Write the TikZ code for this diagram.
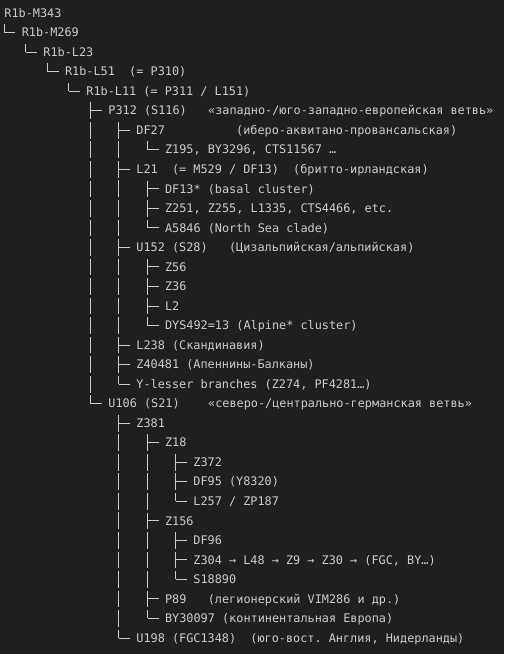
\documentclass[tikz,border=0pt]{standalone}
\usepackage{fontspec}
\newfontfamily\treefont{DejaVu Sans Mono}
\definecolor{panel}{HTML}{1F1F1F}
\definecolor{ink}{HTML}{CCCCCC}
\tikzset{
  clade/.style={anchor=base west, inner sep=0pt, text=ink, font=\treefont\fontsize{11.84}{14}\selectfont},
  rail/.style={draw=ink, line width=1pt, dash pattern=on 16.7pt off 2.83pt},
  stub/.style={draw=ink, line width=1pt}
}

\begin{document}
\frenchspacing
\begin{tikzpicture}[x=1pt, y=-1pt]
			% Panel
			\fill[panel] (0,0) rectangle (504,654);
			% R1b trunk
			\node[clade] (m343) at (4.2,17.2) {R1b-M343};
			\node[clade] (m269) at (21.6,36.7) {R1b-M269};
			\node[clade] (l23) at (43.2,56.3) {R1b-L23};
			\node[clade] (l51) at (64.9,75.8) {R1b-L51~~(= P310)};
			\node[clade] (l11) at (86.2,95.3) {R1b-L11 (= P311 / L151)};
			% P312
			\node[clade] (p312) at (108.2,114.9) {P312 (S116)~~~«западно-/юго-западно-европейская ветвь»};
			\node[clade] (df27) at (136.2,134.4) {DF27~~~~~~~~~~(иберо-аквитано-провансальская)};
			\node[clade] (z195) at (164.9,153.9) {Z195, BY3296, CTS11567 …};
			\node[clade] (l21) at (136.2,173.4) {L21~~(= M529 / DF13)~~(бритто-ирландская)};
			\node[clade] (df13) at (164.9,193.0) {DF13* (basal cluster)};
			\node[clade] (z251) at (164.9,212.5) {Z251, Z255, L1335, CTS4466, etc.};
			\node[clade] (a5846) at (164.9,232.0) {A5846 (North Sea clade)};
			\node[clade] (u152) at (136.2,251.6) {U152 (S28)~~~(Цизальпийская/альпийская)};
			\node[clade] (z56) at (164.9,271.1) {Z56};
			\node[clade] (z36) at (164.9,290.6) {Z36};
			\node[clade] (l2) at (164.9,310.2) {L2};
			\node[clade] (dys492) at (164.9,329.7) {DYS492=13 (Alpine* cluster)};
			\node[clade] (l238) at (136.2,349.2) {L238 (Скандинавия)};
			\node[clade] (z40481) at (136.2,368.7) {Z40481 (Апеннины-Балканы)};
			\node[clade] (ylesser) at (136.2,388.3) {Y-lesser branches (Z274, PF4281…)};
			% U106
			\node[clade] (u106) at (108.2,407.8) {U106 (S21)~~~~«северо-/центрально-германская ветвь»};
			\node[clade] (z381) at (136.2,427.3) {Z381};
			\node[clade] (z18) at (164.9,446.9) {Z18};
			\node[clade] (z372) at (193.2,466.4) {Z372};
			\node[clade] (df95) at (193.2,485.9) {DF95 (Y8320)};
			\node[clade] (l257) at (193.2,505.5) {L257 / ZP187};
			\node[clade] (z156) at (164.9,525.0) {Z156};
			\node[clade] (df96) at (193.2,544.5) {DF96};
			\node[clade] (z304) at (193.2,564.0) {Z304 → L48 → Z9 → Z30 → (FGC, BY…)};
			\node[clade] (s18890) at (193.2,583.6) {S18890};
			\node[clade] (p89) at (164.9,603.1) {P89~~~(легионерский VIM286 и др.)};
			\node[clade] (by30097) at (164.9,622.6) {BY30097 (континентальная Европа)};
			\node[clade] (u198) at (136.2,642.2) {U198 (FGC1348)~~(юго-вост. Англия, Нидерланды)};
			% rails: first child / last child
			\foreach \first/\last in {m269/m269, l23/l23, l51/l51, l11/l11, p312/u106, df27/ylesser, z195/z195, df13/a5846, z56/dys492, z381/u198, z18/by30097, z372/l257, df96/s18890}
				\draw[rail] ([shift={(-17.4,-12.5)}]\first.base west) -- ([shift={(-17.4,-4.2)}]\last.base west);
			% stubs
			\foreach \c in {m269, l23, l51, l11, p312, df27, z195, l21, df13, z251, a5846, u152, z56, z36, l2, dys492, l238, z40481, ylesser, u106, z381, z18, z372, df95, l257, z156, df96, z304, s18890, p89, by30097, u198}
				\draw[stub] ([shift={(-17.4,-4.2)}]\c.base west) -- ++(11,0);
\end{tikzpicture}
\end{document}
